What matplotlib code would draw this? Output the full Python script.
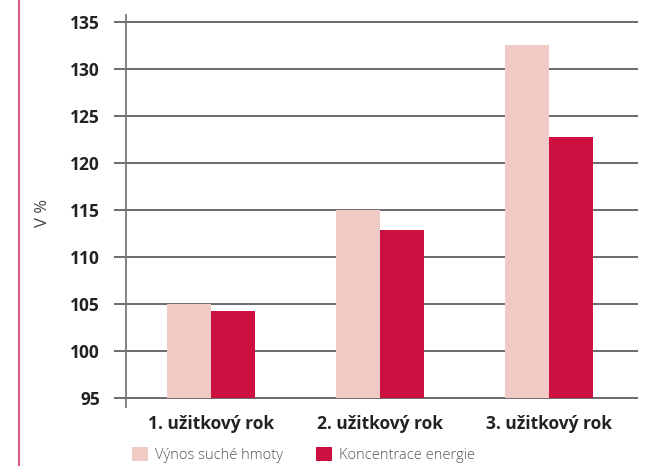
import matplotlib
matplotlib.use("Agg")
import matplotlib.pyplot as plt
from matplotlib.patches import Patch
from matplotlib.lines import Line2D
import numpy as np

categories = ["1. užitkový rok", "2. užitkový rok", "3. užitkový rok"]
vynos = [105.0, 115.0, 132.6]
koncentrace = [104.25, 112.9, 122.8]
series_names = ["Výnos suché hmoty", "Koncentrace energie"]
yticks = [95, 100, 105, 110, 115, 120, 125, 130, 135]

light = "#f0cbc5"
dark = "#cc1140"

plt.rcParams['font.family'] = ['Open Sans', 'DejaVu Sans']

W, H = 659, 466
fig = plt.figure(figsize=(W / 100, H / 100), dpi=100)
ax_left, ax_right = 126, 638
ax_top, ax_bottom = 15, 406.7
ax = fig.add_axes([ax_left / W, 1 - ax_bottom / H, (ax_right - ax_left) / W, (ax_bottom - ax_top) / H])

x = np.arange(len(categories))
bw = 0.26
ax.bar(x - bw / 2, np.array(vynos) - 95, bw, bottom=95, color=light, zorder=3)
ax.bar(x + bw / 2, np.array(koncentrace) - 95, bw, bottom=95, color=dark, zorder=3)

ax.set_xlim(-0.505, 2.525)
ax.set_ylim(94.04, 135.78)
ax.set_yticks(yticks)
ax.set_yticklabels([str(t) for t in yticks], fontsize=12.5, fontweight='bold', color='#222222')
ax.set_xticks(x)
ax.set_xticklabels(categories, fontsize=12.5, fontweight='bold', color='#222222')
ax.tick_params(axis='x', length=0, pad=6)
ax.tick_params(axis='y', direction='out', length=8.6, width=1.1, color='#444444', pad=10)
ax.grid(axis='y', color='#444444', linewidth=1.1, zorder=1)
ax.set_axisbelow(True)
for s in ['top', 'right', 'bottom']:
    ax.spines[s].set_visible(False)
ax.spines['left'].set_color('#777777')
ax.spines['left'].set_linewidth(1.3)
ax.spines['left'].set_zorder(4)

fig.text(43 / W, 1 - 213 / H, "V %", rotation=90, ha='center', va='center', fontsize=12, color='#444444')

# pink vertical rule at left
fig.add_artist(Line2D([19 / W, 19 / W], [0, 1], color='#d65c86', linewidth=1.5, transform=fig.transFigure))

handles = [Patch(facecolor=light, edgecolor='none'), Patch(facecolor=dark, edgecolor='none')]
leg = fig.legend(handles, series_names, loc='center left', bbox_to_anchor=(132 / W, 1 - 455 / H),
                 ncol=2, frameon=False, fontsize=10.5, handlelength=1.1, handleheight=1.1,
                 handletextpad=0.45, columnspacing=2.3, borderpad=0, borderaxespad=0)
for t in leg.get_texts():
    t.set_color('#555555')
    t.set_fontweight('light')

fig.savefig("out.png", dpi=100)
